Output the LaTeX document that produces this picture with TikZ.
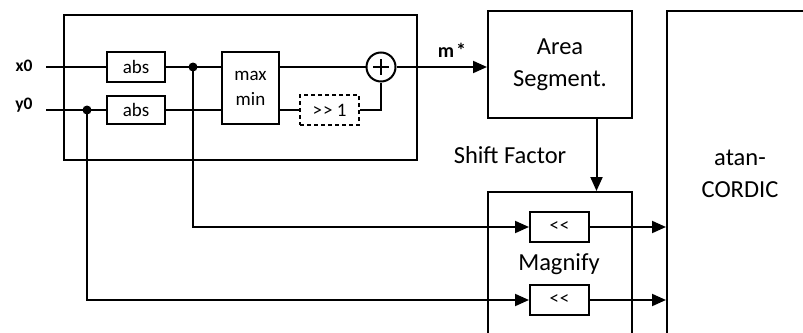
\documentclass[tikz,border=0pt]{standalone}
\usepackage{fontspec}
\setmainfont{Carlito}
\usetikzlibrary{arrows.meta,calc}
\begin{document}
\begin{tikzpicture}[x=1pt,y=-1pt,line width=2pt,
  box/.style={draw,inner sep=0pt},
  small/.style={font=\fontsize{19}{25}\selectfont},
  big/.style={font=\fontsize{24.5}{32}\selectfont},
  lbl/.style={font=\bfseries\fontsize{17.5}{20}\selectfont},
  arr/.style={-{Triangle[length=14pt,width=12pt]}},
  jdot/.style={circle,fill,inner sep=0pt,minimum size=9pt},
  dashbox/.style={draw,dash pattern=on 4pt off 3pt,inner sep=0pt}]
\useasboundingbox (0,0) rectangle (803,332);
\clip (0,0) rectangle (803,332);
% blocks
\node[box,minimum width=353pt,minimum height=145pt] (outer) at (240.5,87.5) {};
\node[box,small,minimum width=58pt,minimum height=30pt] (absx) at (136,67) {abs};
\node[box,small,minimum width=58pt,minimum height=28pt] (absy) at (136,110) {abs};
\node[box,small,align=center,minimum width=57pt,minimum height=72pt] (maxmin) at (250.5,88) {max\\min};
\node[dashbox,small,minimum width=59pt,minimum height=30pt] (shr) at (329.5,110) {>\kern1pt> 1};
\node[draw,circle,inner sep=0pt,minimum size=29pt] (plus) at (381,67) {};
\draw[line width=1.6pt] ($(plus.center)+(-8,0)$) -- ($(plus.center)+(8,0)$);
\draw[line width=1.6pt] ($(plus.center)+(0,-8)$) -- ($(plus.center)+(0,8)$);
\node[box,big,align=center,minimum width=144pt,minimum height=107pt] (area) at (560,64.5) {Area\\Segment.};
\node[box,minimum width=144pt,minimum height=168pt] (mag) at (560,276) {};
\node[big] (maglbl) at (559,264) {Magnify};
\node[box,small,minimum width=59pt,minimum height=30pt] (shu) at (559.5,227) {<\kern1pt<};
\node[box,small,minimum width=59pt,minimum height=30pt] (shl) at (559.5,300) {<\kern1pt<};
\node[box,minimum width=183pt,minimum height=349pt] (atan) at (758.5,185.5) {};
\node[big,align=center] (atanlbl) at (740,174) {atan-\\CORDIC};
% labels
\node[lbl] (x0lbl) at (24,66) {x0};
\node[lbl] (y0lbl) at (24,105.5) {y0};
\node[font=\bfseries\fontsize{20}{20}\selectfont] (mlbl) at (452,50) {m\kern2pt*};
\node[big] (sflbl) at (510,155) {Shift Factor};
% inputs
\coordinate (x0in) at (46,67);
\coordinate (y0in) at (46,110);
\node[jdot] (jx) at (193,67) {};
\node[jdot] (jy) at (87,110) {};
% connectors
\draw (x0in) -- (absx.west);
\draw (y0in) -- (absy.west);
\draw (absx.east) -- (maxmin.west |- absx.east);
\draw (absy.east) -- (maxmin.west |- absy.east);
\draw (maxmin.east |- plus) -- (plus.west);
\draw (maxmin.east |- shr) -- (shr.west);
\draw (shr.east) -| (plus.south);
\draw[arr] (plus.east) -- (area.west |- plus.east);
\coordinate (areaS) at ($(area.south west)!0.75!(area.south east)$);
\draw[arr] (areaS) -- (areaS |- mag.north);
\draw[arr] (jx.center) |- (shu.west);
\draw[arr] (jy.center) |- (shl.west);
\draw[arr] (shu.east) -- (atan.west |- shu.east);
\draw[arr] (shl.east) -- (atan.west |- shl.east);
\end{tikzpicture}
\end{document}
